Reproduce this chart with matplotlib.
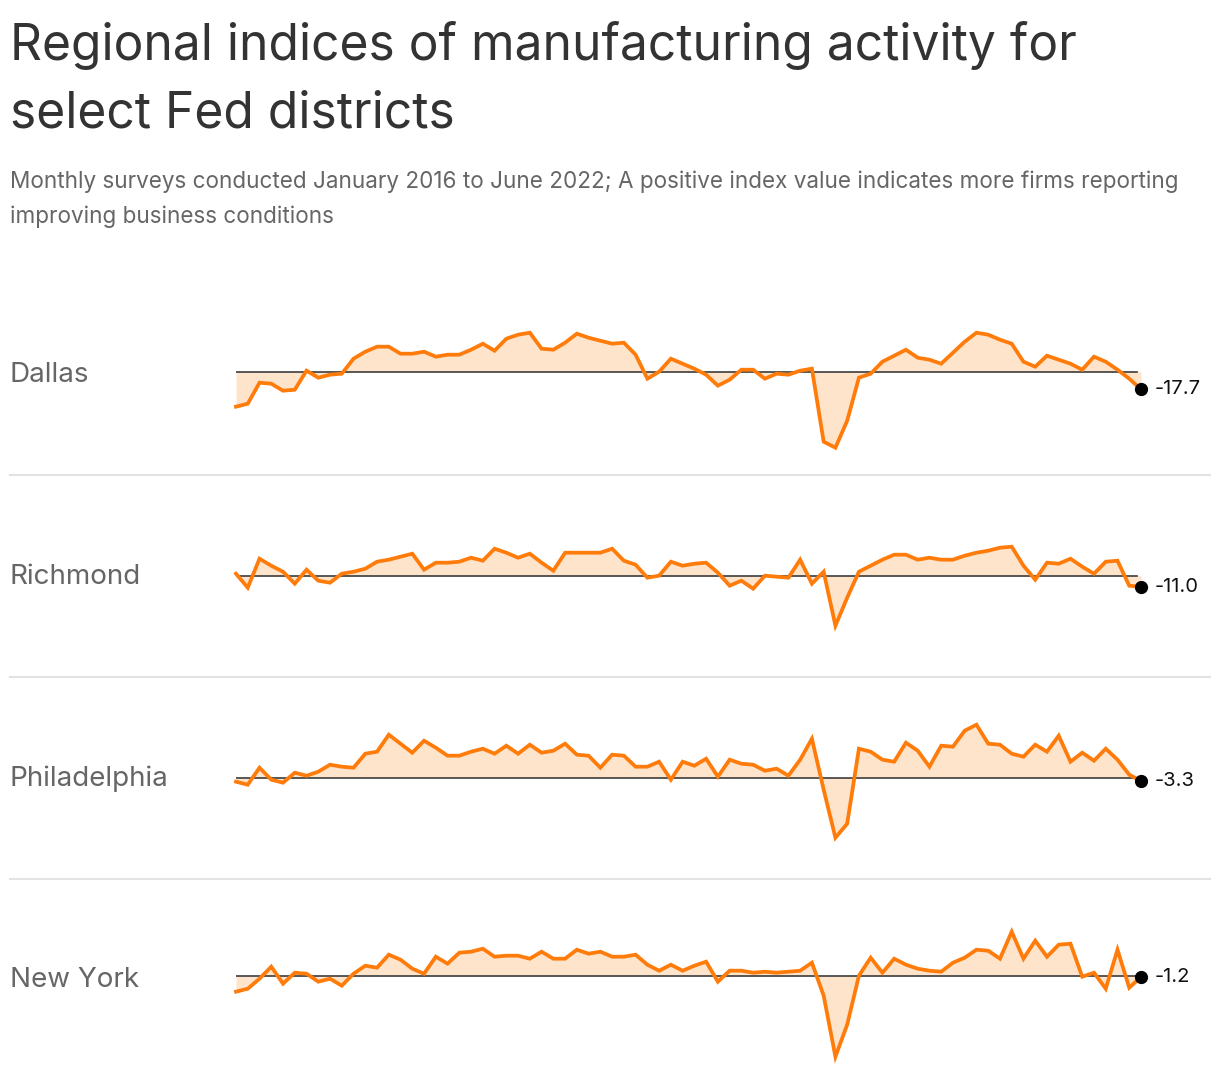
import numpy as np
import matplotlib
matplotlib.use("Agg")
import matplotlib.pyplot as plt
from matplotlib.lines import Line2D

W, H = 1220, 1090
plt.rcParams['font.family'] = ['Inter', 'DejaVu Sans']

ORANGE = '#ff7b0a'
FILL = '#ffe4cc'
BASE = '#3c3c3c'

# monthly index values, Jan 2016 .. Jun 2022
regions = ['Dallas', 'Richmond', 'Philadelphia', 'New York']
dallas = [-35, -32, -11, -12, -19, -18, 1, -6, -3, -2,
          13, 20, 25, 25, 18, 18, 20, 15, 17, 17,
          22, 28, 21, 33, 37, 39, 23, 22, 29, 38,
          34, 31, 28, 29, 17, -7, 0, 13, 8, 3,
          -3, -14, -8, 2, 2, -7, -2, -3, 1, 3,
          -70, -76, -49, -6, -2, 10, 16, 22, 14, 12,
          8, 19, 30, 39, 37, 32, 28, 10, 5, 16,
          12, 8, 2, 15, 10, 2, -7, -17.7]
richmond = [2, -12, 17, 10, 4, -8, 6, -5, -7, 2,
            4, 7, 14, 16, 19, 22, 6, 13, 13, 14,
            18, 15, 27, 23, 18, 22, 13, 5, 23, 23,
            23, 23, 27, 15, 11, -2, 0, 14, 10, 12,
            13, 3, -10, -5, -13, 0, -1, -2, 16, -8,
            4, -50, -22, 4, 10, 16, 21, 21, 16, 18,
            16, 16, 20, 23, 25, 28, 29, 10, -4, 13,
            12, 17, 9, 2, 14, 15, -10, -11.0]
philadelphia = [-4, -7, 10, -2, -5, 5, 2, 6, 13, 11,
                10, 24, 26, 43, 34, 25, 37, 30, 22, 22,
                26, 29, 24, 32, 24, 33, 25, 27, 34, 23,
                22, 10, 23, 22, 11, 11, 16, -2, 16, 12,
                19, 1, 18, 14, 13, 7, 9, 2, 18, 39,
                -12, -60, -46, 29, 26, 18, 16, 35, 27, 11,
                32, 31, 47, 53, 34, 33, 24, 21, 33, 26,
                42, 16, 25, 17, 29, 18, 3, -3.3]
new_york = [-16, -13, -3, 9, -8, 3, 2, -6, -3, -10,
            2, 10, 8, 21, 16, 7, 2, 19, 12, 23,
            24, 27, 19, 20, 20, 17, 24, 17, 17, 26,
            22, 24, 19, 19, 21, 11, 5, 11, 5, 10,
            14, -6, 5, 5, 3, 4, 3, 4, 5, 13,
            -20, -81, -49, 0, 18, 3, 17, 11, 7, 5,
            4, 13, 18, 26, 25, 17, 44, 17, 35, 19,
            31, 32, -1, 3, -13, 26, -12, -1.2]
series = [dallas, richmond, philadelphia, new_york]

title_lines = ['Regional indices of manufacturing activity for', 'select Fed districts']
subtitle_lines = ['Monthly surveys conducted January 2016 to June 2022; A positive index value indicates more firms reporting',
                  'improving business conditions']

fig = plt.figure(figsize=(W / 100, H / 100), dpi=100)

def fx(x):
    return x / W

def fy(y):
    return 1 - y / H

# header
for txt, yb in zip(title_lines, [60, 127]):
    fig.text(fx(10), fy(yb), txt, fontsize=35.8, color='#333333', va='baseline', ha='left')
for txt, yb in zip(subtitle_lines, [188, 223]):
    fig.text(fx(10), fy(yb), txt, fontsize=16.2, color='#666666', va='baseline', ha='left')

baselines = [371.7, 575.7, 777.7, 975.7]
label_y = [382, 584, 786, 987]
ymin, ymax = -90, 50
x0, x1 = 236, 1141

for name, vals, b, ly in zip(regions, series, baselines, label_y):
    vals = np.array(vals, dtype=float)
    x = np.arange(len(vals))
    ax = fig.add_axes([fx(x0), fy(b - ymin), (x1 - x0) / W, (ymax - ymin) / H])
    ax.set_xlim(0, len(vals) - 1)
    ax.set_ylim(ymin, ymax)
    ax.axis('off')
    ax.fill_between(x, vals, 0, color=FILL, lw=0)
    ax.axhline(0, xmin=0, xmax=0.996, color=BASE, lw=1.2, zorder=2)
    ax.plot(x, vals, color=ORANGE, lw=2.7, solid_joinstyle='miter', zorder=3, clip_on=False)
    ax.plot(x[-1], vals[-1], 'o', color='black', ms=8.5, zorder=4, clip_on=False)
    ax.annotate(f'{vals[-1]:.1f}', xy=(x[-1], vals[-1]), xytext=(10, 0), textcoords='offset points',
                va='center', ha='left', fontsize=14.5, color='#111111', annotation_clip=False)
    fig.text(fx(10), fy(ly), name, fontsize=20, color='#666666', va='baseline', ha='left')

# separators between panels
for ys in [475, 677, 879]:
    fig.add_artist(Line2D([fx(10), fx(1210)], [fy(ys), fy(ys)], color='#e3e3e3', lw=1.5))

fig.savefig('out.png', dpi=100)
